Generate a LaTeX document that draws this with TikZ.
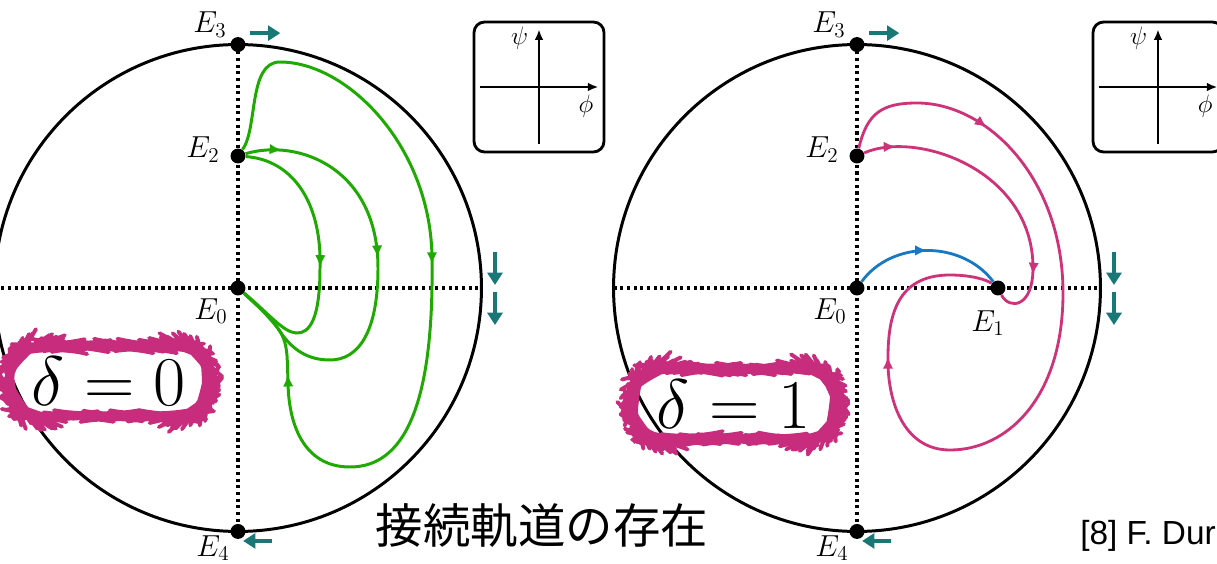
\documentclass[tikz,border=0pt]{standalone}
\usepackage{graphicx}
\usepackage{fontspec}
\newfontfamily\cjk{Noto Sans CJK JP}
\newfontfamily\refsans{Liberation Sans}
\usetikzlibrary{arrows.meta, decorations.markings, decorations.pathmorphing, positioning}

\definecolor{orbitgreen}{RGB}{30,170,0}
\definecolor{orbitpink}{RGB}{206,50,120}
\definecolor{tagpink}{RGB}{200,45,125}
\definecolor{orbitblue}{RGB}{25,120,195}
\definecolor{flowteal}{RGB}{25,120,118}

\begin{document}
\begin{tikzpicture}[x=0.02cm, y=-0.02cm,
  phasedisk/.style={draw, circle, line width=1.7pt, minimum size=9.74cm,
                    inner sep=0pt, outer sep=0pt},
  axisline/.style={line width=1.8pt, dash pattern=on 1.8pt off 2pt},
  fp/.style={circle, fill=black, minimum size=8.5pt, inner sep=0pt},
  elbl/.style={inner sep=0pt, font=\fontsize{17}{20}\selectfont},
  insetbox/.style={draw, line width=1.6pt, rounded corners=6pt,
                   minimum width=2.6cm, minimum height=2.6cm},
  insetaxis/.style={-{Latex[length=6pt,width=5pt]}, line width=1.3pt},
  albl/.style={inner sep=0pt, font=\fontsize{14}{16}\selectfont},
  flowarr/.style={-{Triangle[length=7pt,width=8.5pt]}, line width=2.2pt, flowteal},
  gorbit/.style={line width=1.7pt, orbitgreen},
  porbit/.style={line width=1.6pt, orbitpink},
  borbit/.style={line width=1.6pt, orbitblue},
  tipat/.style={postaction={decorate, decoration={markings,
      mark=at position #1 with {\arrow{Latex[length=7pt,width=6pt]}}}}},
  deltatag/.style={draw=tagpink, line width=2.2pt, line join=round, rounded corners=18pt,
      decorate, decoration={random steps, segment length=1.5pt, amplitude=0.2pt},
      inner sep=0pt, font=\fontsize{24.88}{30}\selectfont}
]
\useasboundingbox (0,0) rectangle (1217,564);
\clip (0,0) rectangle (1217,564);

% Left panel (delta = 0)
\begin{scope}[shift={(238,288)}]
\node[phasedisk] (l-disk) at (0,0) {};
\draw[axisline] (l-disk.west) -- (l-disk.east);
\draw[axisline] (l-disk.north) -- (l-disk.south);

\node[fp] (l-E0) at (0,0) {};
\node[fp] (l-E2) at (0,-132) {};
\node[fp] (l-E3) at (l-disk.north) {};
\node[fp] (l-E4) at (l-disk.south) {};
\node[elbl, anchor=base east] (l-E3txt) at (-11,-255) {$E_3$};
\node[elbl, anchor=base east] (l-E2txt) at (-18,-130) {$E_2$};
\node[elbl, anchor=base east] (l-E0txt) at (-10,31) {$E_0$};
\node[elbl, anchor=base east] (l-E4txt) at (-8,268) {$E_4$};

% orbits E2 -> E0
\draw[gorbit, tipat=0.51] (l-E2) .. controls (55,-128) and (84,-85) .. (82,-20)
  .. controls (82,30) and (72,46) .. (58,45) .. controls (45,44) and (30,25) .. (l-E0);
\draw[gorbit, tipat=0.085, tipat=0.45] (l-E2) .. controls (60,-150) and (140,-120) .. (140,-20)
  .. controls (140,45) and (120,72) .. (92,72) .. controls (70,72) and (55,62) .. (43,45)
  .. controls (35,32) and (20,18) .. (l-E0);
\draw[gorbit, tipat=0.45, tipat=0.885] (l-E2) .. controls (20,-160) and (10,-226) .. (42,-226)
  .. controls (110,-226) and (194,-140) .. (194,-28)
  .. controls (196,120) and (165,179) .. (112,179)
  .. controls (65,179) and (50,135) .. (50,92)
  .. controls (49,70) and (50,58) .. (43,45)
  .. controls (35,32) and (20,18) .. (l-E0);

% flow at infinity
\draw[flowarr] ([xshift=7pt,yshift=6.5pt]l-E3.center) -- ++(30,0);
\draw[flowarr] ([xshift=19.4pt,yshift=-5.4pt]l-E4.center) -- ++(-29,0);
\draw[flowarr] ([xshift=7.7pt,yshift=20.5pt]l-disk.east) -- ++(0,33);
\draw[flowarr] ([xshift=7.7pt,yshift=-2.3pt]l-disk.east) -- ++(0,33);

% inset axes
\node[insetbox] (l-inset) at (301,-201) {};
\draw[insetaxis] ([xshift=4pt]l-inset.west) -- ([xshift=-4pt]l-inset.east);
\draw[insetaxis] ([yshift=5.5pt]l-inset.south) -- ([yshift=-5pt]l-inset.north);
\node[albl] (l-psi) at ([xshift=-11pt,yshift=-10pt]l-inset.north) {$\psi$};
\node[albl] (l-phi) at ([xshift=-11pt,yshift=-11pt]l-inset.east) {$\phi$};

\node[deltatag, minimum width=3.9cm, minimum height=1.4cm] (l-tag) at (-129,93)
  {\scalebox{1.6}{$\delta = 0$}};
\end{scope}

% Right panel (delta = 1)
\begin{scope}[shift={(857,288)}]
\node[phasedisk] (r-disk) at (0,0) {};
\draw[axisline] (r-disk.west) -- (r-disk.east);
\draw[axisline] (r-disk.north) -- (r-disk.south);

\node[fp] (r-E0) at (0,0) {};
\node[fp] (r-E1) at (141,0) {};
\node[fp] (r-E2) at (0,-132) {};
\node[fp] (r-E3) at (r-disk.north) {};
\node[fp] (r-E4) at (r-disk.south) {};
\node[elbl, anchor=base east] (r-E3txt) at (-11,-255) {$E_3$};
\node[elbl, anchor=base east] (r-E2txt) at (-18,-130) {$E_2$};
\node[elbl, anchor=base east] (r-E0txt) at (-10,31) {$E_0$};
\node[elbl, anchor=base east] (r-E1txt) at (148,43) {$E_1$};
\node[elbl, anchor=base east] (r-E4txt) at (-8,268) {$E_4$};

% orbits E0 -> E1 and E2 -> E1
\draw[borbit, tipat=0.5] (r-E0) .. controls (35,-48) and (105,-48) .. (r-E1);
\draw[porbit, tipat=0.11, tipat=0.82] (r-E2) .. controls (60,-158) and (176,-118) .. (176,-20)
  .. controls (176,20) and (152,22) .. (r-E1);
\draw[porbit, tipat=0.186, tipat=0.811] (r-E2) .. controls (10,-175) and (25,-185) .. (60,-185)
  .. controls (130,-185) and (206,-110) .. (206,5)
  .. controls (206,110) and (150,162) .. (93,162)
  .. controls (45,162) and (30,110) .. (31,69)
  .. controls (31,20) and (45,-13) .. (93,-13)
  .. controls (115,-13) and (130,-8) .. (r-E1);

% flow at infinity
\draw[flowarr] ([xshift=7pt,yshift=6.5pt]r-E3.center) -- ++(30,0);
\draw[flowarr] ([xshift=19.4pt,yshift=-5.4pt]r-E4.center) -- ++(-29,0);
\draw[flowarr] ([xshift=7.7pt,yshift=20.5pt]r-disk.east) -- ++(0,33);
\draw[flowarr] ([xshift=7.7pt,yshift=-2.3pt]r-disk.east) -- ++(0,33);

% inset axes
\node[insetbox] (r-inset) at (301,-201) {};
\draw[insetaxis] ([xshift=4pt]r-inset.west) -- ([xshift=-4pt]r-inset.east);
\draw[insetaxis] ([yshift=5.5pt]r-inset.south) -- ([yshift=-5pt]r-inset.north);
\node[albl] (r-psi) at ([xshift=-11pt,yshift=-10pt]r-inset.north) {$\psi$};
\node[albl] (r-phi) at ([xshift=-11pt,yshift=-11pt]r-inset.east) {$\phi$};

\node[deltatag, minimum width=4.0cm, minimum height=1.4cm] (r-tag) at (-123,116)
  {\scalebox{1.6}{$\delta = 1$}};
\end{scope}

% caption and reference
\node[inner sep=0pt, font=\cjk\fontsize{27}{30}\selectfont] (caption) at (542,526) {接続軌道の存在};
\node[inner sep=0pt, anchor=base west, font=\refsans\fontsize{19}{22}\selectfont] (cite) at (1080,544) {[8] F. Dur};

\end{tikzpicture}
\end{document}
